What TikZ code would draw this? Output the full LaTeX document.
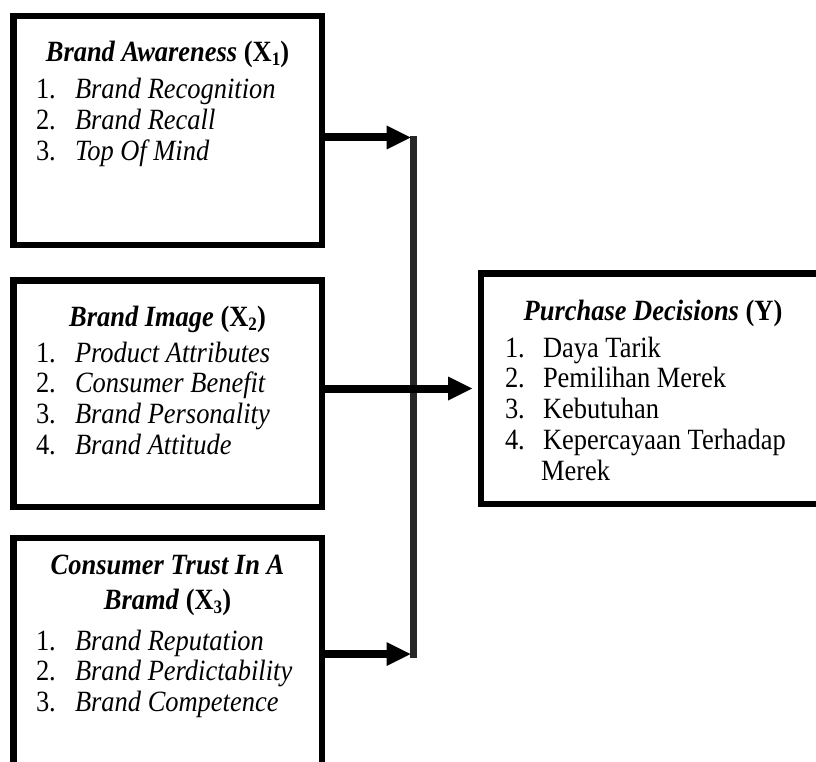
\documentclass[tikz,border=0pt]{standalone}
\usepackage{fontspec}
\setmainfont{Liberation Serif}[FakeStretch=0.9]
\usetikzlibrary{arrows.meta}
\definecolor{busgray}{HTML}{262626}
\newcommand{\subnum}[1]{\raisebox{-4pt}{\fontsize{19}{19}\selectfont #1}}
\begin{document}
\begin{tikzpicture}[x=1pt,y=-1pt,
  box/.style={draw, line width=6.5pt, inner sep=0pt, outer sep=0pt},
  txt/.style={inner sep=0pt, outer sep=0pt, font=\fontsize{29.4}{30.8}\selectfont},
  arr/.style={line width=8pt, -{Triangle[length=24pt,width=24pt,line width=0pt]}},
  bus/.style={line width=7pt, draw=busgray}]
\useasboundingbox (0,0) rectangle (816,762);
\clip (0,0) rectangle (816,762);
\fill[white] (0,0) rectangle (816,762);

% boxes
\node[box, minimum width=308.5pt, minimum height=228.5pt] (b1) at (167.5,130.5) {};
\node[box, minimum width=308.5pt, minimum height=226.5pt] (b2) at (167.5,393.5) {};
\node[box, minimum width=308.5pt, minimum height=241.75pt] (b3) at (167.5,659) {};
\node[box, minimum width=343.75pt, minimum height=230.5pt] (y) at (653.1,388.5) {};

% texts box 1
\node[txt, anchor=base] (t1) at (167.5,62) {\textbf{\textit{Brand Awareness} (X\subnum{1})}};
\node[txt, anchor=base west] (l1) at (36,99) {\begin{tabular}[t]{@{}p{39pt}@{}l@{}}
1. & \textit{Brand Recognition}\\
2. & \textit{Brand Recall}\\
3. & \textit{Top Of Mind}
\end{tabular}};

% texts box 2
\node[txt, anchor=base] (t2) at (167.5,326) {\textbf{\textit{Brand Image} (X\subnum{2})}};
\node[txt, anchor=base west] (l2) at (36,362) {\begin{tabular}[t]{@{}p{39pt}@{}l@{}}
1. & \textit{Product Attributes}\\
2. & \textit{Consumer Benefit}\\
3. & \textit{Brand Personality}\\
4. & \textit{Brand Attitude}
\end{tabular}};

% texts box 3
\node[txt, anchor=base] (t3a) at (167.5,574) {\textbf{\textit{Consumer Trust In A}}};
\node[txt, anchor=base] (t3b) at (167.5,609) {\textbf{\textit{Bramd} (X\subnum{3})}};
\node[txt, anchor=base west] (l3) at (36,650) {\begin{tabular}[t]{@{}p{39pt}@{}l@{}}
1. & \textit{Brand Reputation}\\
2. & \textit{Brand Perdictability}\\
3. & \textit{Brand Competence}
\end{tabular}};

% texts box Y
\node[txt, anchor=base] (ty) at (653,320) {\textbf{\textit{Purchase Decisions} (Y)}};
\node[txt, anchor=base west] (ly) at (505,357) {\begin{tabular}[t]{@{}p{38pt}@{}l@{}}
1. & Daya Tarik\\
2. & Pemilihan Merek\\
3. & Kebutuhan\\
4. & Kepercayaan Terhadap\\
 & \hspace{-2pt}Merek
\end{tabular}};

% bus
\coordinate (bt) at (413.5,136);
\coordinate (bb) at (413.5,658);
\coordinate (c1) at (410.5,137.5);
\coordinate (c3) at (410.5,654);
\draw[bus] (bt) -- (bb);

% arrows
\draw[arr] (b1.east |- c1) -- (c1);
\draw[arr] (b3.east |- c3) -- (c3);
\draw[arr, shorten >=9pt] (b2.east |- y.west) -- (y.west);
\end{tikzpicture}
\end{document}
